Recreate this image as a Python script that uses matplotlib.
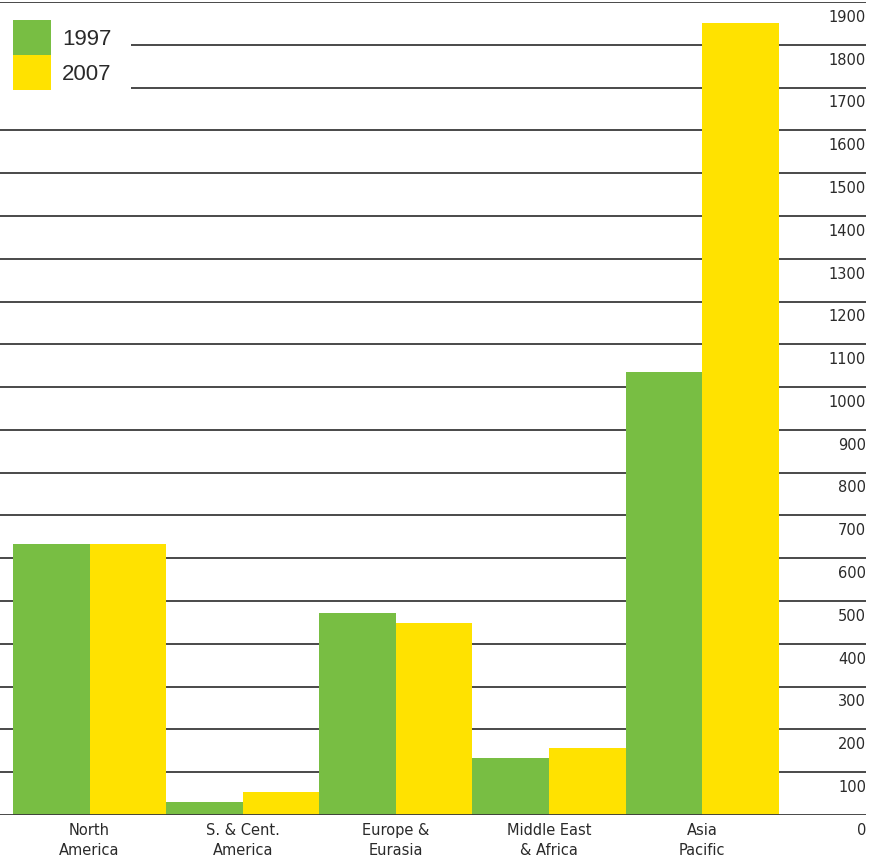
import matplotlib.pyplot as plt
import numpy as np
from matplotlib.patches import Patch

regions = ["North\nAmerica", "S. & Cent.\nAmerica", "Europe &\nEurasia",
           "Middle East\n& Africa", "Asia\nPacific"]
years = ["1997", "2007"]
v1997 = [633, 31, 472, 133, 1035]
v2007 = [633, 54, 449, 156, 1851]
yticks = list(range(0, 2000, 100))

green = "#78be43"
yellow = "#ffe200"
line_col = "#3a3a3a"
text_col = "#2a2a2a"

fig = plt.figure(figsize=(8.7, 8.65), dpi=100)
ax = fig.add_axes([0, 50 / 865, 866 / 870, 813 / 865])

x = np.arange(len(regions))
w = 0.5
ax.bar(x - w / 2, v1997, w, color=green, zorder=3)
ax.bar(x + w / 2, v2007, w, color=yellow, zorder=3)

# horizontal rules, bars sit on top of them
for v in yticks:
    z = 1
    if v == 0:
        z = 4
    if v == yticks[-1]:
        z = 6
    ax.axhline(v, color=line_col, lw=1.3, zorder=z)

# value labels sit just under each rule, right aligned
for v in yticks:
    ax.annotate(str(v), xy=(1, v), xycoords=("axes fraction", "data"),
                xytext=(0, -11), textcoords="offset points",
                ha="right", va="center", fontsize=10.5, color=text_col,
                family="DejaVu Sans", annotation_clip=False)

ax.set_xlim(-0.585, 5.07)
ax.set_ylim(0, 1900)
for s in ax.spines.values():
    s.set_visible(False)
ax.set_yticks([])
ax.set_xticks(x, regions)
ax.tick_params(axis="x", length=0, pad=6, labelsize=10.5, labelcolor=text_col)
for lbl in ax.get_xticklabels():
    lbl.set_linespacing(1.35)

handles = [Patch(facecolor=green, edgecolor="none"),
           Patch(facecolor=yellow, edgecolor="none")]
leg = ax.legend(handles, years, loc="upper left",
                bbox_to_anchor=(-7 / 866, 1 + 2 / 813), borderaxespad=0,
                frameon=True, facecolor="white", edgecolor="none", framealpha=1,
                fancybox=False, handlelength=1.7, handleheight=2.05,
                labelspacing=0, handletextpad=0.5, borderpad=0.9,
                prop={"family": "Liberation Sans", "size": 16})
for t in leg.get_texts():
    t.set_color(text_col)
leg.set_zorder(5)

fig.savefig("out.png", dpi=100)
